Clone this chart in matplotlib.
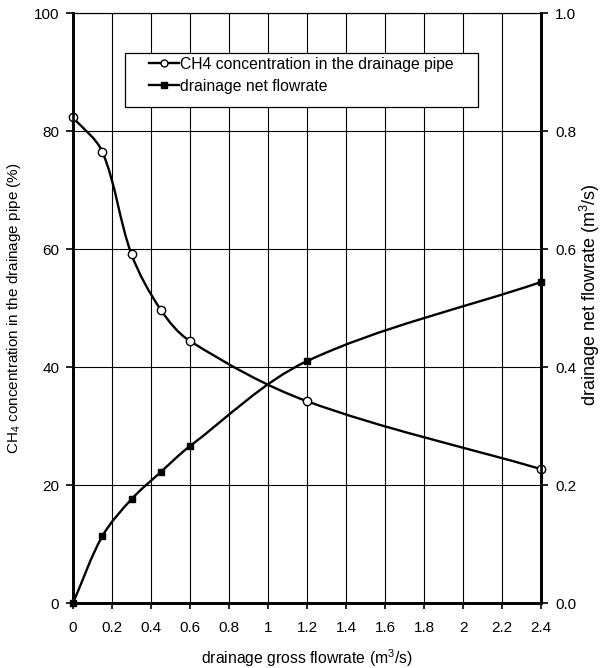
import numpy as np
import matplotlib.pyplot as plt
from matplotlib.path import Path
from matplotlib.patches import PathPatch, Rectangle
from matplotlib.lines import Line2D

# Data
gross_flow = [0.0, 0.15, 0.3, 0.45, 0.6, 1.2, 2.4]           # m3/s
ch4_conc = [82.3, 76.5, 59.1, 49.7, 44.4, 34.2, 22.7]        # %
net_flow = [0.0, 0.113, 0.176, 0.222, 0.266, 0.410, 0.544]   # m3/s

x_ticks = [0, 0.2, 0.4, 0.6, 0.8, 1, 1.2, 1.4, 1.6, 1.8, 2, 2.2, 2.4]
left_ticks = [0, 20, 40, 60, 80, 100]
right_ticks = [0.0, 0.2, 0.4, 0.6, 0.8, 1.0]

plt.rcParams['font.family'] = ['Liberation Sans', 'DejaVu Sans']
plt.rcParams['mathtext.fontset'] = 'custom'
plt.rcParams['mathtext.rm'] = 'Liberation Sans'
plt.rcParams['mathtext.it'] = 'Liberation Sans:italic'


def smooth_path(a, xs, ys):
    """Smoothed line (chordal Catmull-Rom as cubic Beziers), built in display space."""
    tr = a.transData
    pts = tr.transform(np.column_stack([xs, ys]).astype(float))
    n = len(pts)
    d = np.hypot(*np.diff(pts, axis=0).T)
    tang = np.zeros_like(pts)
    tang[0] = (pts[1] - pts[0]) / d[0]
    tang[-1] = (pts[-1] - pts[-2]) / d[-1]
    for i in range(1, n - 1):
        tang[i] = (pts[i + 1] - pts[i - 1]) / (d[i - 1] + d[i])
    verts = [pts[0]]
    codes = [Path.MOVETO]
    for i in range(n - 1):
        c1 = pts[i] + tang[i] * d[i] / 3.0
        c2 = pts[i + 1] - tang[i + 1] * d[i] / 3.0
        verts += [c1, c2, pts[i + 1]]
        codes += [Path.CURVE4] * 3
    verts = tr.inverted().transform(np.array(verts))
    return Path(verts, codes)


fig = plt.figure(figsize=(6.01, 6.68), dpi=100)
ax = fig.add_axes([0.1215, 0.0973, 0.7787, 0.8832])
ax2 = ax.twinx()

ax.set_xlim(0, 2.4)
ax.set_ylim(0, 100)
ax2.set_ylim(0, 1.0)

lw = 1.7
# CH4 concentration (left axis)
ax.add_patch(PathPatch(smooth_path(ax, gross_flow, ch4_conc), fill=False, lw=lw, color='black',
                       zorder=3, capstyle='round'))
ax.plot(gross_flow, ch4_conc, linestyle='none', marker='o', ms=6, mfc='white', mec='black',
        mew=1.0, zorder=4, clip_on=False)

# net flowrate (right axis)
ax2.add_patch(PathPatch(smooth_path(ax2, gross_flow, net_flow), fill=False, lw=lw, color='black',
                        zorder=3, capstyle='round'))
ax2.plot(gross_flow, net_flow, linestyle='none', marker='s', ms=5, mfc='black', mec='black',
         zorder=4, clip_on=False)

ax.set_xticks(x_ticks)
ax.set_xticklabels([f"{t:g}" for t in x_ticks])
ax.set_yticks(left_ticks)
ax2.set_yticks(right_ticks)
ax2.set_yticklabels([f"{t:.1f}" for t in right_ticks])

ax.grid(True, color='black', lw=0.8, zorder=0)
ax.set_axisbelow(True)

for a in (ax, ax2):
    a.tick_params(axis='y', direction='out', length=5, width=1.2, labelsize=11, colors='black', pad=5)
    for side in ('left', 'right', 'bottom'):
        a.spines[side].set_linewidth(1.9)
    a.spines['top'].set_linewidth(0.8)
ax.tick_params(axis='x', direction='out', length=4, width=1.2, labelsize=11, colors='black', pad=9)

ax.set_xlabel('drainage gross flowrate (m$^3$/s)', fontsize=11.3)
ax.xaxis.set_label_coords(0.5, -0.075)
ax.set_ylabel('CH$_4$ concentration in the drainage pipe (%)', fontsize=11)
ax.yaxis.set_label_coords(-0.107, 0.5)
ax2.set_ylabel('drainage net flowrate (m$^3$/s)', fontsize=13)
ax2.yaxis.set_label_coords(1.078, 0.522)

# legend box (white, covers the grid)
ax2.add_patch(Rectangle((0.111, 0.840), 0.754, 0.093, transform=ax2.transAxes, facecolor='white',
                        edgecolor='black', lw=0.9, zorder=8, clip_on=False))
handles = [
    Line2D([], [], color='black', lw=lw, marker='o', ms=5, mfc='white', mec='black'),
    Line2D([], [], color='black', lw=lw, marker='s', ms=4.5, mfc='black', mec='black'),
]
leg = ax2.legend(handles, ['CH4 concentration in the drainage pipe', 'drainage net flowrate'],
                 loc='upper left', bbox_to_anchor=(0.162, 0.926), fontsize=11.3, frameon=False,
                 handlelength=1.95, handletextpad=0.05, borderpad=0, borderaxespad=0,
                 labelspacing=0.45)
leg.set_zorder(10)

fig.savefig('out.png', dpi=100)
